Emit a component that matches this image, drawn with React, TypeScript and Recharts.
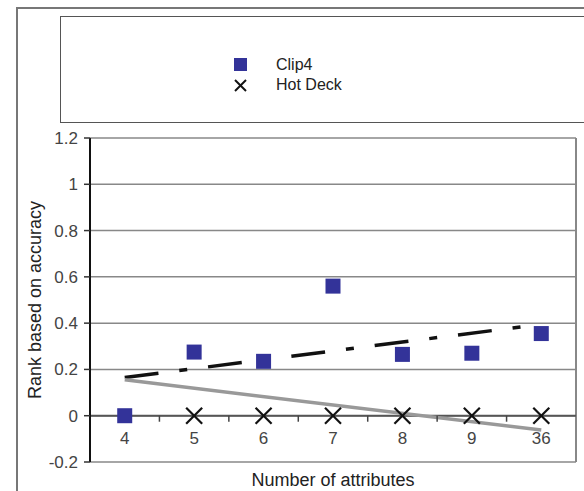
import { ComposedChart, Line, Scatter, XAxis, YAxis, CartesianGrid, ReferenceLine } from 'recharts';

// values (no Hot Deck mark is visible at 4)
const categories = ['4', '5', '6', '7', '8', '9', '36'];
const clip4 = [0, 0.275, 0.235, 0.56, 0.265, 0.27, 0.355];
const hotDeck = [null, 0, 0, 0, 0, 0, 0];
const clip4Trend = [0.165, null, null, null, null, null, 0.395];
const grayTrend = [0.155, null, null, null, null, null, -0.062];
const yTicks = [-0.2, 0, 0.2, 0.4, 0.6, 0.8, 1, 1.2];
const yDomain = [-0.2, 1.2];

const data = categories.map((c, i) => ({
  idx: i + 1,
  label: c,
  clip4: clip4[i],
  hotDeck: hotDeck[i],
  clip4Trend: clip4Trend[i],
  grayTrend: grayTrend[i],
}));

// label positions at categories, small tick marks at the boundaries between them
const xTicks = [
  ...categories.map((_, i) => i + 1),
  ...categories.slice(1).map((_, i) => i + 1.5),
].sort((a, b) => a - b);

const W = 584;
const H = 491;
const margin = { top: 138, right: 8, bottom: 0, left: 0 };
const X_AXIS_H = 29;
const PLOT_H = H - margin.top - margin.bottom - X_AXIS_H;
const zeroOffset = (PLOT_H * (0 - yDomain[0])) / (yDomain[1] - yDomain[0]);

const font = '"Liberation Sans", Arial, sans-serif';

function XTick(props: any) {
  const { x, y, payload } = props;
  const v = payload.value;
  const y0 = y - zeroOffset;
  if (Number.isInteger(v)) {
    return (
      <text x={x} y={y0 + 24} textAnchor="middle" dominantBaseline="middle" fontSize={17} fill="#444" fontFamily={font}>
        {categories[v - 1]}
      </text>
    );
  }
  return <line x1={x} x2={x} y1={y0} y2={y0 + 6} stroke="#444" strokeWidth={1.5} />;
}

const Square = (p: any) => {
  if (p.payload?.clip4 == null || !Number.isFinite(p.cy)) return <g />;
  return <rect x={p.cx - 7.5} y={p.cy - 7.5} width={15} height={15} fill="#333399" />;
};

const Cross = (p: any) => {
  if (p.payload?.hotDeck == null || !Number.isFinite(p.cy)) return <g />;
  return (
    <g stroke="#111" strokeWidth={2.2}>
      <line x1={p.cx - 8} y1={p.cy - 8} x2={p.cx + 8} y2={p.cy + 8} />
      <line x1={p.cx - 8} y1={p.cy + 8} x2={p.cx + 8} y2={p.cy - 8} />
    </g>
  );
};

export default function App() {
  return (
    <div style={{ position: 'absolute', left: 0, top: 0, width: W, height: H, background: '#fff', overflow: 'hidden', fontFamily: font }}>
      {/* outer frame */}
      <div style={{ position: 'absolute', left: 16, top: 7, width: 640, height: 560, border: '2px solid #777' }} />

      {/* legend box */}
      <div style={{ position: 'absolute', left: 60, top: 16, width: 640, height: 105, border: '1.5px solid #555' }}>
        <div style={{ position: 'absolute', left: 172, top: 38, fontSize: 16, color: '#222', lineHeight: '20px' }}>
          <div style={{ display: 'flex', alignItems: 'center' }}>
            <svg width={16} height={20}>
              <rect x={1} y={3} width={13} height={13} fill="#333399" />
            </svg>
            <span style={{ marginLeft: 27 }}>Clip4</span>
          </div>
          <div style={{ display: 'flex', alignItems: 'center' }}>
            <svg width={16} height={20}>
              <g stroke="#111" strokeWidth={2}>
                <line x1={2} y1={5} x2={13} y2={16} />
                <line x1={2} y1={16} x2={13} y2={5} />
              </g>
            </svg>
            <span style={{ marginLeft: 27 }}>Hot Deck</span>
          </div>
        </div>
      </div>

      <div style={{ position: 'absolute', left: 0, top: 0 }}>
        <ComposedChart width={W} height={H} data={data} margin={margin}>
          <CartesianGrid vertical={false} stroke="#888" strokeWidth={1.5} />
          <ReferenceLine x={7.5} stroke="#888" strokeWidth={2} />
          <ReferenceLine y={0} stroke="#555" strokeWidth={2} />
          <XAxis
            type="number"
            dataKey="idx"
            domain={[0.5, 7.5]}
            ticks={xTicks}
            interval={0}
            height={X_AXIS_H}
            axisLine={false}
            tickLine={false}
            tickSize={0}
            tickMargin={0}
            tick={<XTick />}
            label={{ value: 'Number of attributes', position: 'insideBottom', offset: 5, fontSize: 18, fill: '#222', fontFamily: font }}
          />
          <YAxis
            type="number"
            domain={yDomain}
            ticks={yTicks}
            interval={0}
            width={90}
            axisLine={{ stroke: '#111', strokeWidth: 2 }}
            tickLine={{ stroke: '#333', strokeWidth: 1.5 }}
            tickSize={6}
            tickMargin={6}
            tick={{ fontSize: 17, fill: '#444', fontFamily: font }}
            label={{
              value: 'Rank based on accuracy',
              angle: -90,
              position: 'insideLeft',
              offset: 35,
              style: { textAnchor: 'middle', fontSize: 18, fill: '#222', fontFamily: font },
            }}
          />
          <Scatter dataKey="hotDeck" shape={Cross} isAnimationActive={false} />
          <Scatter dataKey="clip4" shape={Square} isAnimationActive={false} />
          <Line
            dataKey="clip4Trend"
            connectNulls
            dot={false}
            stroke="#111"
            strokeWidth={3.5}
            strokeDasharray="34 21 8 21"
            isAnimationActive={false}
            legendType="none"
          />
          <Line
            dataKey="grayTrend"
            connectNulls
            dot={false}
            stroke="#999"
            strokeWidth={3.5}
            isAnimationActive={false}
            legendType="none"
          />
        </ComposedChart>
      </div>
    </div>
  );
}
